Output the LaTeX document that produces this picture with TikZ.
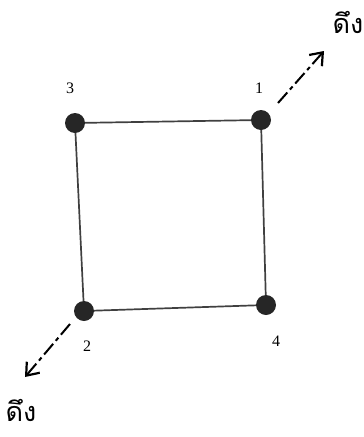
\documentclass[tikz,border=0pt]{standalone}
\usepackage{fontspec}
\setmainfont{Liberation Serif}
\newfontfamily\thaifont[Script=Thai]{Loma}
\usetikzlibrary{arrows.meta}
\begin{document}
\begin{tikzpicture}[x=1pt,y=-1pt,
  dot/.style={circle,fill=black!85,inner sep=0pt,minimum size=20pt},
  edge/.style={line width=1.7pt,black!75},
  num/.style={font=\fontsize{16}{16}\selectfont},
  pull/.style={line width=2pt,dash pattern=on 14pt off 4pt on 4pt off 4pt,-{Straight Barb[length=11pt,width=17pt,line width=2.2pt]}},
  lbl/.style={font=\thaifont\fontsize{27}{27}\selectfont}]
\useasboundingbox (0,0) rectangle (364,437);
\node[dot] (n3) at (75,123) {};
\node[dot] (n1) at (261,120) {};
\node[dot] (n2) at (84,311) {};
\node[dot] (n4) at (266,305) {};
\draw[edge] (n3) -- (n1);
\draw[edge] (n1) -- (n4);
\draw[edge] (n4) -- (n2);
\draw[edge] (n2) -- (n3);
\node[num] (l3) at (70,88) {3};
\node[num] (l1) at (259,88) {1};
\node[num] (l2) at (87,346) {2};
\node[num] (l4) at (276,341) {4};
\coordinate (a1s) at (278,103);
\coordinate (a1e) at (324,51);
\coordinate (a2s) at (70,324);
\coordinate (a2e) at (25,377);
\draw[pull] (a1s) -- (a1e);
\draw[pull] (a2s) -- (a2e);
\node[lbl] (t1) at (348,22) {ดึง};
\node[lbl] (t2) at (21,410) {ดึง};
\end{tikzpicture}
\end{document}
